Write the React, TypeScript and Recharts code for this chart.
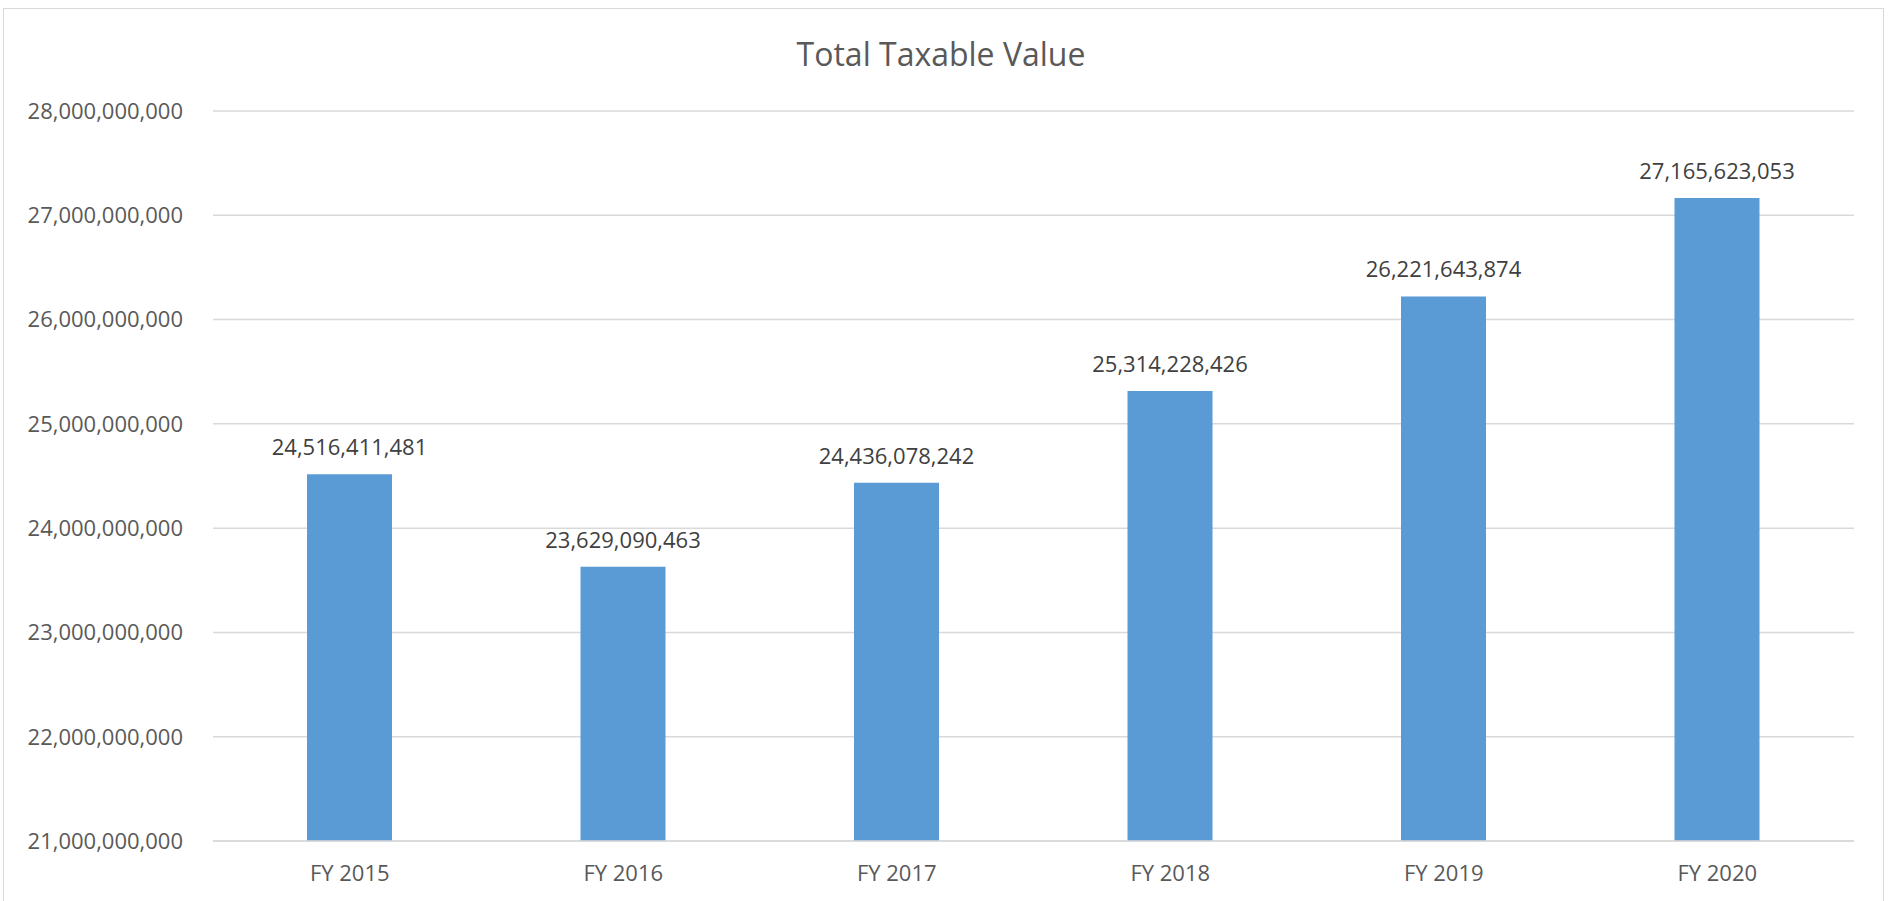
import React from 'react';
import { BarChart, Bar, XAxis, YAxis, CartesianGrid, LabelList } from 'recharts';

const years = ['FY 2015', 'FY 2016', 'FY 2017', 'FY 2018', 'FY 2019', 'FY 2020'];
const taxableValues = [24516411481, 23629090463, 24436078242, 25314228426, 26221643874, 27165623053];
const yTicks = [21000000000, 22000000000, 23000000000, 24000000000, 25000000000, 26000000000, 27000000000, 28000000000];

const data = years.map((name, i) => ({ name, value: taxableValues[i] }));

const fmt = (v: number) => v.toLocaleString('en-US');

const font = '"Open Sans", sans-serif';

const App = () => {
    return (
        <div style={{ position: 'absolute', left: 0, top: 0, width: 1891, height: 901, background: '#fff', overflow: 'hidden', fontFamily: font }}>
            {/* chart area border */}
            <div style={{ position: 'absolute', left: 3, top: 8, width: 1879, height: 910, border: '1px solid #d9d9d9' }} />
            <div style={{ position: 'absolute', left: 0, top: 32, width: 1882, textAlign: 'center', fontSize: 32, lineHeight: '43px', color: '#595959' }}>
                Total Taxable Value
            </div>
            <BarChart
                width={1891}
                height={901}
                data={data}
                margin={{ top: 111, right: 37, bottom: 0, left: 0 }}
                style={{ position: 'absolute', left: 0, top: 0 }}
            >
                <CartesianGrid vertical={false} stroke="#d9d9d9" strokeWidth={1.5} />
                <XAxis
                    dataKey="name"
                    height={60}
                    tickLine={false}
                    tickSize={0}
                    tickMargin={24}
                    axisLine={{ stroke: '#d9d9d9', strokeWidth: 1.5 }}
                    tick={{ fill: '#595959', fontSize: 22, fontFamily: font }}
                />
                <YAxis
                    width={213}
                    domain={[21000000000, 28000000000]}
                    ticks={yTicks}
                    tickFormatter={fmt}
                    axisLine={false}
                    tickLine={false}
                    tickSize={0}
                    tickMargin={30}
                    tick={{ fill: '#595959', fontSize: 22, fontFamily: font }}
                />
                <Bar dataKey="value" fill="#5b9bd5" barSize={85} isAnimationActive={false}>
                    <LabelList
                        dataKey="value"
                        position="top"
                        offset={19}
                        formatter={(v: any) => fmt(Number(v))}
                        style={{ fill: '#404040', fontSize: 22, fontFamily: font }}
                    />
                </Bar>
            </BarChart>
        </div>
    );
};

export default App;
